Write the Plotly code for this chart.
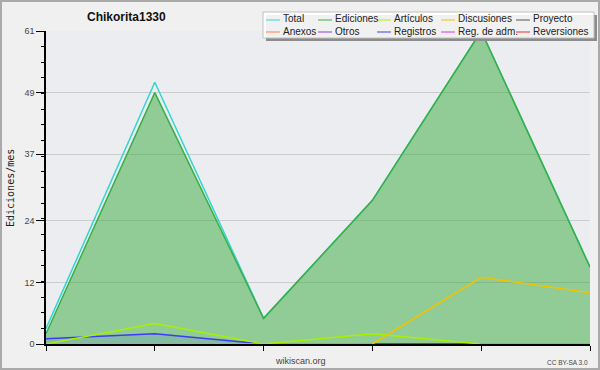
import plotly.graph_objects as go

# ---------------- data ----------------
months = [0, 1, 2, 3, 4, 5]
total = [3, 51, 5, 28, 61, 15]
ediciones = [2, 49, 5, 28, 61, 15]
articulos = [0, 4, 0, 2, 0, 0]
discusiones = [0, 0, 0, 0, 13, 10]
proyecto = [0, 0, 0, 0, 0, 0]
anexos = [0, 0, 0, 0, 0, 0]
otros = [0, 0, 0, 0, 0, 0]
registros = [1, 2, 0, 0, 0, 0]
reg_adm = [0, 0, 0, 0, 0, 0]
reversiones = [0, 0, 0, 0, 0, 0]

y_ticks = [0, 12, 24, 37, 49, 61]
y_max = 61

legend_names = ["Total", "Ediciones", "Artículos", "Discusiones", "Proyecto",
                "Anexos", "Otros", "Registros", "Reg. de adm.", "Reversiones"]
legend_colors = ["#33d6cf", "#3aaf47", "#a8f000", "#f2c200", "#555555",
                 "#ff7f40", "#8a3ce0", "#3c3cf5", "#dd33ee", "#ee2b2b"]
series = [total, ediciones, articulos, discusiones, proyecto,
          anexos, otros, registros, reg_adm, reversiones]

title = "Chikorita1330"
y_title = "Ediciones/mes"

# ---------------- layout geometry ----------------
W, H = 600, 370
L, R, T, B = 46, 10, 31, 26
PW, PH = W - L - R, H - T - B


def px(x):
    return (x - L) / PW


def py(y):
    return (H - B - y) / PH


fig = go.Figure()

color = dict(zip(legend_names, legend_colors))

# draw order: zero series, total, ediciones (filled), registros, articulos, discusiones
for name in ["Proyecto", "Anexos", "Otros", "Reg. de adm.", "Reversiones"]:
    fig.add_trace(go.Scatter(x=months, y=series[legend_names.index(name)], mode="lines",
                             line=dict(color=color[name], width=1.5), showlegend=False,
                             hoverinfo="skip"))

fig.add_trace(go.Scatter(x=months, y=total, mode="lines",
                         line=dict(color=color["Total"], width=1.5), showlegend=False))
fig.add_trace(go.Scatter(x=months, y=ediciones, mode="lines", fill="tozeroy",
                         fillcolor="rgba(50,170,60,0.49)",
                         line=dict(color=color["Ediciones"], width=1.5), showlegend=False))
fig.add_trace(go.Scatter(x=months, y=registros, mode="lines", fill="tozeroy",
                         fillcolor="rgba(60,60,245,0.12)",
                         line=dict(color=color["Registros"], width=1.5), showlegend=False))
fig.add_trace(go.Scatter(x=months, y=articulos, mode="lines",
                         line=dict(color=color["Artículos"], width=1.5), showlegend=False))
fig.add_trace(go.Scatter(x=months, y=discusiones, mode="lines",
                         line=dict(color=color["Discusiones"], width=1.5), showlegend=False))

shapes = []
annotations = []

# outer border
shapes.append(dict(type="rect", xref="paper", yref="paper",
                   x0=px(1), x1=px(599), y0=py(1), y1=py(369),
                   line=dict(color="#aaaaaa", width=2), fillcolor="rgba(0,0,0,0)",
                   layer="below"))

# legend box with shadow
shapes.append(dict(type="rect", xref="paper", yref="paper",
                   x0=px(266), x1=px(597), y0=py(15), y1=py(41),
                   line=dict(width=0), fillcolor="#8c8c8c"))
shapes.append(dict(type="rect", xref="paper", yref="paper",
                   x0=px(263), x1=px(594), y0=py(12), y1=py(38),
                   line=dict(color="#c0c0c0", width=1), fillcolor="rgba(255,255,255,0.88)"))

col_x = [266, 318, 377, 441, 516]
row_y = [19, 31]
for i, (name, c) in enumerate(zip(legend_names, legend_colors)):
    r, k = divmod(i, 5)
    x0 = col_x[k]
    yy = row_y[r]
    shapes.append(dict(type="line", xref="paper", yref="paper",
                       x0=px(x0), x1=px(x0 + 14), y0=py(yy + 1), y1=py(yy + 1),
                       line=dict(color=c, width=1)))
    annotations.append(dict(xref="paper", yref="paper", x=px(x0 + 17), y=py(yy),
                            text=name, showarrow=False, xanchor="left", yanchor="middle",
                            borderpad=0, borderwidth=0,
                            font=dict(family="Liberation Sans", size=10, color="#222222")))

# title
annotations.append(dict(xref="paper", yref="paper", x=px(126), y=py(17), text="<b>" + title + "</b>",
                        showarrow=False, xanchor="center", yanchor="middle",
                        font=dict(family="Liberation Sans", size=12, color="#111111")))
# y-axis title
annotations.append(dict(xref="paper", yref="paper", x=px(10), y=py(188), text=y_title,
                        showarrow=False, xanchor="center", yanchor="middle", textangle=-90,
                        font=dict(family="DejaVu Sans Mono", size=10, color="#222222")))
# watermarks
annotations.append(dict(xref="paper", yref="paper", x=px(300), y=py(361), text="wikiscan.org",
                        showarrow=False, xanchor="center", yanchor="middle",
                        font=dict(family="Liberation Sans", size=9, color="#444444")))
annotations.append(dict(xref="paper", yref="paper", x=px(590), y=py(362), text="CC BY-SA 3.0",
                        showarrow=False, xanchor="right", yanchor="middle",
                        font=dict(family="Liberation Sans", size=6.5, color="#444444")))

fig.update_layout(
    width=W, height=H,
    margin=dict(l=L, r=R, t=T, b=B, pad=0),
    paper_bgcolor="#f0f0f0",
    plot_bgcolor="#ecedf0",
    showlegend=False,
    shapes=shapes,
    annotations=annotations,
    xaxis=dict(range=[months[0], months[-1]], tickmode="array", tickvals=months,
               showticklabels=False, ticks="outside", ticklen=5, tickcolor="#000000",
               tickwidth=1, showline=True, linecolor="#000000", linewidth=2,
               showgrid=False, zeroline=False, fixedrange=True),
    yaxis=dict(range=[0, y_max], tickmode="array", tickvals=y_ticks,
               ticktext=[str(v) for v in y_ticks], ticks="outside", ticklen=8,
               tickcolor="#000000", tickwidth=1, showline=True, linecolor="#000000",
               linewidth=1.5, showgrid=True, gridcolor="#cccccc", gridwidth=1,
               zeroline=False, tickfont=dict(family="Liberation Sans", size=9, color="#444444"),
               minor=dict(tickmode="linear", tick0=0, dtick=y_max / 20, ticks="outside",
                          ticklen=3, tickcolor="#000000", showgrid=False),
               fixedrange=True),
)

fig.write_html("out.html")
